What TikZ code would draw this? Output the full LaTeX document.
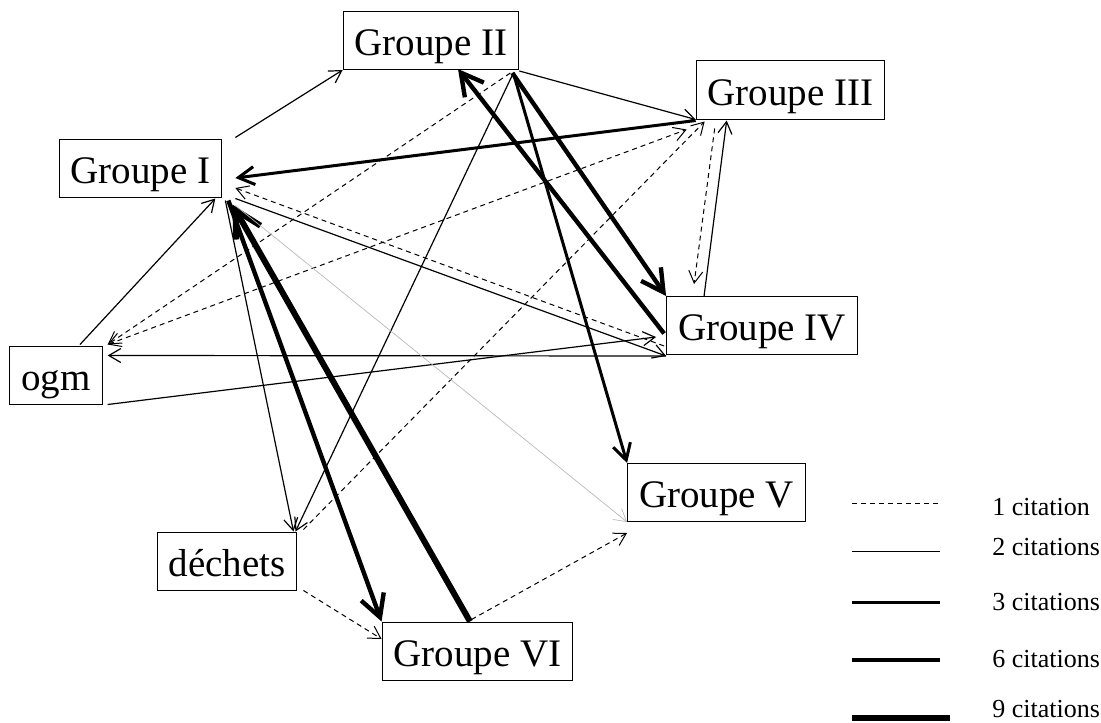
\documentclass[tikz,border=0pt]{standalone}
\usepackage{fontspec}
\setmainfont{Liberation Serif}
\usepackage{tikz}
\usetikzlibrary{arrows.meta}

\begin{document}
\begin{tikzpicture}[x=0.5pt,y=-0.5pt,
  grpbox/.style={draw,line width=0.5pt,inner xsep=5.75pt,inner ysep=0pt,minimum height=29pt,text height=15pt,text depth=0pt,font=\fontsize{19.5}{23}\selectfont},
  legtxt/.style={anchor=base west,inner sep=0pt,font=\fontsize{13}{15}\selectfont},
  cit1/.style={line width=0.5pt,dash pattern=on 2.5pt off 2pt,>={Straight Barb[length=6pt,width=7pt,sharp]}},
  cit2/.style={line width=0.6pt,>={Straight Barb[length=6pt,width=7pt,sharp]}},
  cit3/.style={line width=1.5pt,>={Straight Barb[length=8pt,width=9pt,sharp]}},
  cit6/.style={line width=2.2pt,>={Straight Barb[length=11pt,width=12pt,sharp]}},
  cit9/.style={line width=3pt,>={Straight Barb[length=13pt,width=14pt,sharp]}},
  gryline/.style={gray!55,line width=0.35pt,>={Straight Barb[length=6pt,width=7pt,sharp]}}]
\useasboundingbox (0,0) rectangle (1101,722);
\node[grpbox] (g1) at (140.5,168) {Groupe I};
\node[grpbox] (g2) at (431,40.5) {Groupe II};
\node[grpbox] (g3) at (790.5,90) {Groupe III};
\node[grpbox] (g4) at (762,325.5) {Groupe IV};
\node[grpbox] (g5) at (716.5,492.5) {Groupe V};
\node[grpbox] (g6) at (477.5,651) {Groupe VI};
\node[grpbox] (ogm) at (56,375) {ogm};
\node[grpbox] (dech) at (227,561) {déchets};
\draw[cit2,->] ([shift={(13,-1)}]g1.north east) -- (g2.south west);
\draw[cit2,->] ([shift={(0,1)}]g2.south east) -- (g3.south west);
\draw[cit3,->] ([shift={(0,1)}]g3.south west) -- ([shift={(13,10)}]g1.east);
\draw[cit6,->] ([shift={(-7,3)}]g2.south east) -- (g4.north west);
\draw[cit6,->] ([shift={(-2,8)}]g4.west) -- ([shift={(27,-1)}]g2.south);
\draw[cit6,->] ([shift={(6,3)}]g1.south east) -- (g6.north west);
\draw[cit9,->] ([shift={(-7.5,0)}]g6.north) -- ([shift={(10,7)}]g1.south east);
\draw[cit2,->] ([shift={(3,3)}]g1.south east) -- ([shift={(-4,0)}]dech.north east);
\draw[cit2,->] ([shift={(-6,3)}]g2.south east) -- ([shift={(-2,0)}]dech.north east);
\draw[cit1,->] ([shift={(6,-2)}]dech.north east) -- ([shift={(9,2)}]g3.south west);
\draw[cit1,->] ([shift={(19,9)}]g3.south west) -- ([shift={(28,-12)}]g4.north west);
\draw[cit2,->] ([shift={(38,0)}]g4.north west) -- ([shift={(31,1)}]g3.south west);
\draw[cit1,->] ([shift={(-9,3)}]g2.south east) -- ([shift={(5,-1)}]ogm.north east);
\draw[cit1,<->] ([shift={(5,-1)}]ogm.north east) -- ([shift={(-9,10)}]g3.south west);
\draw[cit2,->] ([shift={(0,1)}]g4.south west) -- ([shift={(5,10)}]ogm.north east);
\draw[cit2,->] ([shift={(5,0)}]ogm.south east) -- ([shift={(-10,11.5)}]g4.west);
\draw[cit2,->] ([shift={(13,1)}]g1.south east) -- ([shift={(0,1)}]g4.south west);
\draw[cit1,->] ([shift={(-2,-9)}]g4.south west) -- ([shift={(13,20)}]g1.east);
\draw[cit2,->] ([shift={(24,-1)}]ogm.north) -- ([shift={(-7,1)}]g1.south east);
\draw[gryline,->] ([shift={(13,8)}]g1.south east) -- (g5.south west);
\draw[cit3,->] ([shift={(-6,3)}]g2.south east) -- (g5.north west);
\draw[cit1,->] ([shift={(-6,-2)}]g6.north) -- ([shift={(0,11)}]g5.south west);
\draw[cit1,->] ([shift={(6,0)}]dech.south east) -- ([shift={(0,-12)}]g6.west);
\draw[cit1] (852,503.5) -- (940,503.5);
\draw[cit2] (852,551.5) -- (940,551.5);
\draw[cit3] (852,602) -- (940,602);
\draw[cit6] (852,660) -- (940,660);
\draw[cit9] (852,718) -- (950,718);
\foreach \ty/\lbl [count=\i] in %
{515/1 citation,555/2 citations,610/3 citations,667/6 citations,717/9 citations} {
   \node[legtxt] (leg\i) at (992,\ty) {\lbl};
}
\end{tikzpicture}
\end{document}
